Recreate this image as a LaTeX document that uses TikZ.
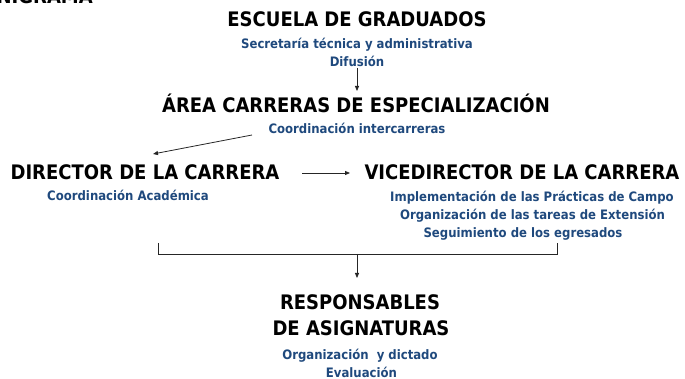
\documentclass[tikz,border=0pt]{standalone}
\usepackage{fontspec}
\setmainfont{DejaVu Sans}
\newfontfamily\condfont{DejaVu Sans Condensed}
\usetikzlibrary{arrows.meta}
\definecolor{subc}{RGB}{31,73,125}
\begin{document}
\begin{tikzpicture}[x=1pt,y=-1pt,
  head/.style={font=\condfont\bfseries\fontsize{20}{24}\selectfont, anchor=base, inner sep=0pt},
  subt/.style={font=\condfont\bfseries\fontsize{13}{15}\selectfont, text=subc, anchor=base, inner sep=0pt},
  conn/.style={draw=black!85, line width=0.8pt, -{Triangle[length=5pt,width=4pt]}},
  plainline/.style={draw=black!85, line width=0.8pt}]
\useasboundingbox (0,0) rectangle (685,379);
\node[head, anchor=base east] (title) at (93,3.5) {ORGANIGRAMA};
\node[head] (esc) at (357,27) {ESCUELA DE GRADUADOS};
\node[subt] (sec) at (357,49) {Secretaría técnica y administrativa};
\node[subt] (dif) at (357,67) {Difusión};
\node[head] (area) at (356,113) {ÁREA CARRERAS DE ESPECIALIZACIÓN};
\node[subt] (coo) at (357,134) {Coordinación intercarreras};
\node[head] (dir) at (145,180) {DIRECTOR DE LA CARRERA};
\node[subt] (aca) at (128,200.5) {Coordinación Académica};
\node[head] (vice) at (522,180) {VICEDIRECTOR DE LA CARRERA};
\node[subt] (imp) at (532,201.5) {Implementación de las Prácticas de Campo};
\node[subt] (org) at (532.5,220) {Organización de las tareas de Extensión};
\node[subt] (seg) at (523,238) {Seguimiento de los egresados};
\node[head] (resp) at (360,309) {RESPONSABLES};
\node[head] (asig) at (361,335) {DE ASIGNATURAS};
\node[subt] (orgd) at (360,359) {Organización\ \ y dictado};
\node[subt] (eva) at (361.5,377) {Evaluación};
% connector ends
\coordinate (a1s) at (357,68);
\coordinate (a1e) at (357,91);
\coordinate (a2s) at (252,135);
\coordinate (a2e) at (153,154);
\coordinate (a3s) at (302,173);
\coordinate (a3e) at (350,173);
\coordinate (bl) at (158,243);
\coordinate (blc) at (158,254);
\coordinate (brc) at (557,254);
\coordinate (br) at (557,243);
\coordinate (bm) at (357,254);
\coordinate (a4e) at (357,278);
\draw[conn] (a1s) -- (a1e);
\draw[conn] (a2s) -- (a2e);
\draw[conn] (a3s) -- (a3e);
\draw[plainline] (bl) -- (blc) -- (brc) -- (br);
\draw[conn] (bm) -- (a4e);
\end{tikzpicture}
\end{document}
